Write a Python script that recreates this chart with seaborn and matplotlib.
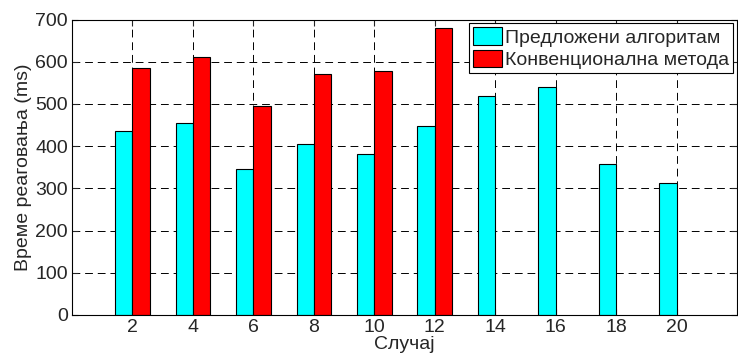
import numpy as np
import pandas as pd
import matplotlib
matplotlib.use('Agg')
import matplotlib.pyplot as plt
import seaborn as sns

# Data
cases = [2, 4, 6, 8, 10, 12, 14, 16, 18, 20]
proposed = [436, 456, 345, 405, 382, 448, 519, 541, 357, 313]
conventional = [584, 610, 496, 572, 578, 681, np.nan, np.nan, np.nan, np.nan]
series_names = ['Предложени алгоритам', 'Конвенционална метода']
colors = ['#00FFFF', '#FF0000']

df = pd.DataFrame({
    'case': cases * 2,
    'value': proposed + conventional,
    'series': [series_names[0]] * len(cases) + [series_names[1]] * len(cases),
})

sns.set_style('white')
plt.rcParams['font.family'] = ['Liberation Sans', 'DejaVu Sans']

fig = plt.figure(figsize=(7.38, 3.56), dpi=100)
ax = fig.add_axes([0.0976, 0.1152, 0.9010, 0.8300])

sns.barplot(data=df, x='case', y='value', hue='series', palette=colors,
            native_scale=True, width=0.57, gap=0, edgecolor='black',
            linewidth=0.8, ax=ax, errorbar=None, saturation=1)

ax.set_xlim(0, 22)
ax.set_ylim(0, 700)
ax.set_xticks(cases)
ax.set_yticks(range(0, 701, 100))
ax.tick_params(direction='in', length=4, labelsize=14, top=True, right=True,
               bottom=True, left=True, width=0.8, pad=3)
ax.grid(True, linestyle=(0, (8, 5)), color='black', linewidth=0.7)
ax.set_axisbelow(True)
for s in ax.spines.values():
    s.set_color('black')
    s.set_linewidth(0.8)

ax.set_xlabel('Случај', fontsize=14, labelpad=0)
ax.set_ylabel('Време реаговања (ms)', fontsize=14, labelpad=2)

leg = ax.legend(loc='upper right', fontsize=14, frameon=True, fancybox=False,
                edgecolor='black', framealpha=1, borderaxespad=0.2,
                handlelength=1.5, handleheight=1.0, handletextpad=0.15,
                borderpad=0.2, labelspacing=0.15)
leg.get_frame().set_linewidth(0.8)

fig.savefig('out.png', dpi=100)
